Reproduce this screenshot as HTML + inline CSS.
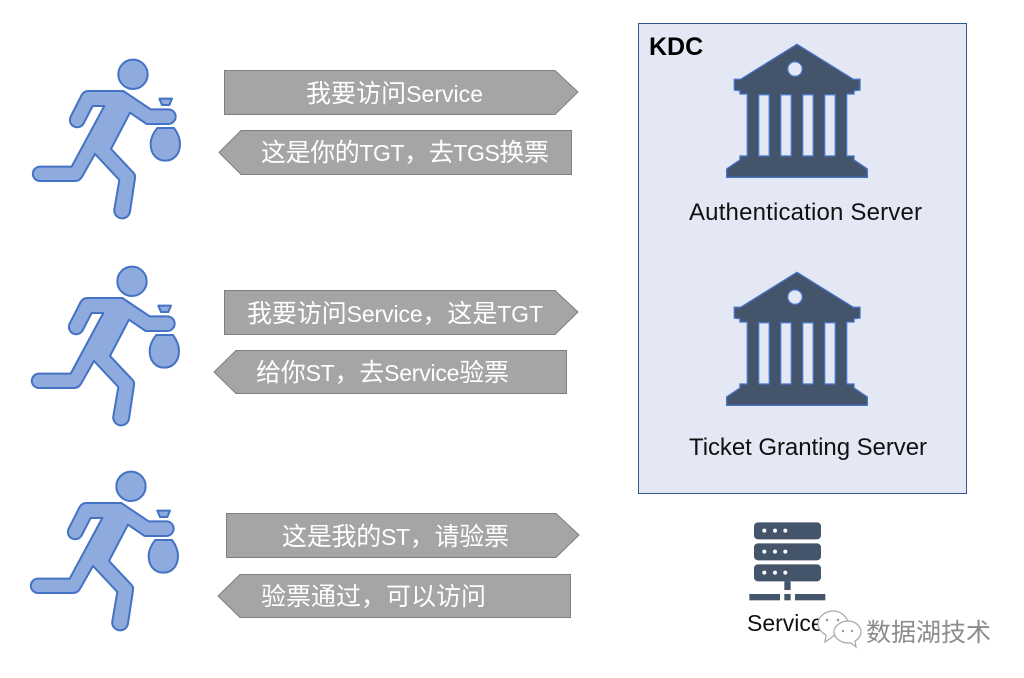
<!DOCTYPE html>
<html><head><meta charset="utf-8"><style>
html,body{margin:0;padding:0;background:#fff}
svg{display:block}
text{font-family:"Liberation Sans","Noto Sans CJK SC",sans-serif}
.a{fill:#a5a5a5;stroke:#7f7f7f;stroke-width:1}
.t{fill:#fff;font-size:25px}
.t tspan{font-size:23px}
.k{fill:#111;font-size:24px}
</style></head><body>
<svg width="1024" height="678" viewBox="0 0 1024 678" xmlns="http://www.w3.org/2000/svg">
<defs>
<g id="p" fill="#8faadc" stroke="#4472c4" stroke-width="6" stroke-linejoin="round">
<circle cx="339" cy="73" r="44"/>
<path d="M205 123H310L392 178H445A22 22 0 0 1 445 222H380L330 188L273 297L340 368Q347 375 345 385L330 485A23 23 0 0 1 283 478L298 390L225 312L185 382Q178 393 165 393H60A21 21 0 0 1 60 350H155L253 168H218L190 222A22 22 0 0 1 152 200L185 135Q192 123 205 123Z"/>
<path d="M418 146H456L448 165H426Z"/>
<path d="M412 234H462Q480 258 480 282C480 312 462 332 436 332C410 332 392 312 392 282Q392 258 412 234Z"/>
</g>
<path id="b" fill="#44546a" stroke="#4472c4" stroke-width="4" fill-rule="evenodd" d="M501 73L670 178H690V210L672 212V222H650V408H672V420L712 447V472H290V447L330 420V408H352V222H330V212L313 210V178H332ZM386 224V408H418V224ZM452 224V408H484V224ZM518 224V408H550V224ZM584 224V408H616V224ZM517 147A22 22 0 1 0 473 147A22 22 0 1 0 517 147Z"/>
</defs>

<rect x="638.5" y="23.5" width="328" height="470" fill="#e4e8f4" stroke="#2f5597" stroke-width="1"/>
<text x="649" y="55" style="font-size:25px;font-weight:700" fill="#000">KDC</text>
<use href="#b" transform="translate(630 20) scale(.3333)"/>
<use href="#b" transform="translate(630 248) scale(.3333)"/>
<text class="k" x="689" y="220" textLength="233">Authentication Server</text>
<text class="k" x="689" y="455" textLength="238">Ticket Granting Server</text>

<use href="#p" transform="translate(20 50) scale(.3333)"/>
<use href="#p" transform="translate(19 257) scale(.3333)"/>
<use href="#p" transform="translate(18 462) scale(.3333)"/>

<polygon class="a" points="224.500,70.500 555,70.500 578,92 555,114.500 224.500,114.500"/>
<polygon class="a" points="219,152.500 241,130.500 571.500,130.500 571.500,174.500 241,174.500"/>
<polygon class="a" points="224.500,290.500 555,290.500 578,312 555,334.500 224.500,334.500"/>
<polygon class="a" points="214,372 236,350.500 566.500,350.500 566.500,393.500 236,393.500"/>
<polygon class="a" points="226.500,513.500 556,513.500 579,535 556,557.500 226.500,557.500"/>
<polygon class="a" points="218,596 240,574.500 570.500,574.500 570.500,617.500 240,617.500"/>

<text class="t" x="306" y="102" textLength="177">我要访问<tspan>Service</tspan></text>
<text class="t" x="261" y="161" textLength="288">这是你的<tspan>TGT</tspan>，去<tspan>TGS</tspan>换票</text>
<text class="t" x="247" y="322" textLength="296">我要访问<tspan>Service</tspan>，这是<tspan>TGT</tspan></text>
<text class="t" x="256" y="381" textLength="253">给你<tspan>ST</tspan>，去<tspan>Service</tspan>验票</text>
<text class="t" x="282" y="545" textLength="227">这是我的<tspan>ST</tspan>，请验票</text>
<text class="t" x="261" y="605" textLength="225">验票通过，可以访问</text>

<g transform="translate(730 510) scale(.3333)" fill="#44546a">
<rect x="72" y="37" width="201" height="51" rx="12"/>
<rect x="72" y="100" width="201" height="51" rx="12"/>
<rect x="72" y="163" width="201" height="51" rx="12"/>
<rect x="163" y="214" width="19" height="26"/>
<rect x="58" y="252" width="92" height="19"/>
<rect x="163" y="252" width="19" height="19"/>
<rect x="195" y="252" width="91" height="19"/>
<g fill="#fff">
<circle cx="103" cy="62" r="6"/><circle cx="135" cy="62" r="6"/><circle cx="166" cy="62" r="6"/>
<circle cx="103" cy="125" r="6"/><circle cx="135" cy="125" r="6"/><circle cx="166" cy="125" r="6"/>
<circle cx="103" cy="188" r="6"/><circle cx="135" cy="188" r="6"/><circle cx="166" cy="188" r="6"/>
</g></g>
<text x="747" y="631" fill="#111" style="font-size:23px">Service</text>

<g fill="#fff" stroke="#a8a8a8" stroke-width="1.200">
<path d="M831 638l-6 4 1-7c-5-3-8-7-8-11 0-7 7-13 15-13s15 6 15 13-7 12-15 12z"/>
<path d="M851 643l5 4-1-6c4-2 6-6 6-9 0-6-6-11-13-11s-14 5-14 11 7 11 14 11z"/>
</g>
<g fill="#999"><circle cx="827" cy="620" r="1.300"/><circle cx="838" cy="620" r="1.300"/><circle cx="843" cy="631" r="1.200"/><circle cx="852" cy="631" r="1.200"/></g>
<text x="866" y="641" fill="#fff" style="font-size:25px" stroke="#fff" stroke-width="2">数据湖技术</text>
<text x="866" y="641" fill="#8c8c8c" style="font-size:25px">数据湖技术</text>
</svg>
</body></html>
